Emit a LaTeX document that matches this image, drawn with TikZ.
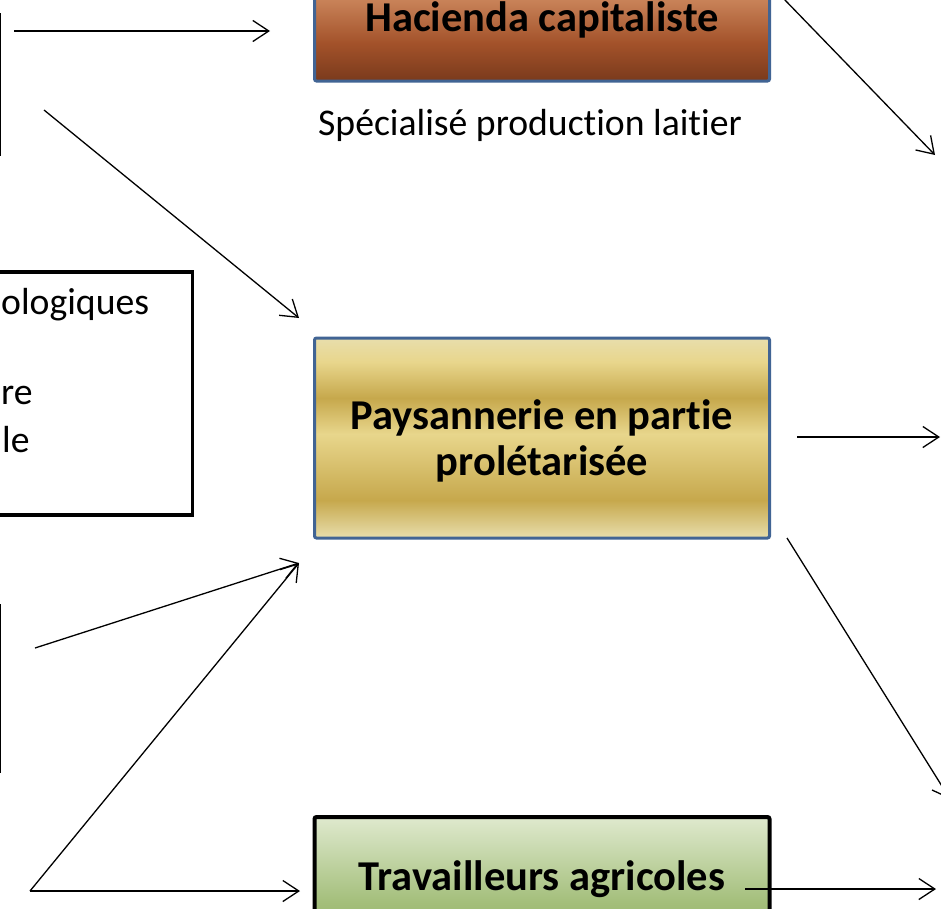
\documentclass[tikz,border=0pt]{standalone}
\usepackage{fontspec}
\setmainfont{Carlito}[Ligatures=NoCommon]
\usetikzlibrary{arrows.meta}
\definecolor{bordblue}{RGB}{65,100,148}
\definecolor{hacL}{RGB}{226,170,128}
\definecolor{hacA}{RGB}{200,130,88}
\definecolor{hacM}{RGB}{163,82,42}
\definecolor{hacD}{RGB}{122,58,28}
\definecolor{goldP}{RGB}{232,222,172}
\definecolor{goldL}{RGB}{232,214,140}
\definecolor{goldD}{RGB}{198,168,76}
\definecolor{grnL}{RGB}{223,233,206}
\definecolor{grnM}{RGB}{163,190,122}
\definecolor{grnD}{RGB}{147,180,104}
\pgfdeclareverticalshading{hacshade}{100bp}{color(0bp)=(hacD); color(25bp)=(hacD); color(40bp)=(hacM); color(57bp)=(hacA); color(75bp)=(hacL); color(100bp)=(hacL)}
\pgfdeclareverticalshading{goldshade}{100bp}{color(0bp)=(goldP); color(25bp)=(goldP); color(34.5bp)=(goldD); color(51bp)=(goldL); color(60bp)=(goldD); color(69bp)=(goldL); color(75bp)=(goldP); color(100bp)=(goldP)}
\pgfdeclareverticalshading{grnshade}{100bp}{color(0bp)=(grnD); color(25bp)=(grnD); color(40bp)=(grnM); color(75bp)=(grnL); color(100bp)=(grnL)}
\tikzset{
  lbl/.style={font=\fontsize{42.5}{46}\selectfont\bfseries, align=center, inner sep=0pt},
  plain/.style={font=\fontsize{37.7}{42}\selectfont, inner sep=0pt},
  conn/.style={line width=1.3pt, -{Straight Barb[length=16pt,width=21pt,line width=1.3pt]}},
  mainbox/.style={draw=bordblue, line width=3pt, rounded corners=2pt, minimum width=455pt, inner sep=0pt},
}
\begin{document}
\begin{tikzpicture}[x=1pt,y=-1pt]
\useasboundingbox (0,0) rectangle (941,908);
\clip (0,0) rectangle (941,908);
\fill[white] (0,0) rectangle (941,908);
% partial boxes at left
\node[draw, line width=2pt, minimum width=200pt, minimum height=141pt, anchor=east, inner sep=0pt] (boxA) at (1,84.5) {};
\node[draw, line width=3.5pt, minimum width=300pt, minimum height=243pt, anchor=east, inner sep=0pt] (boxB) at (194,393.5) {};
\node[draw, line width=2pt, minimum width=200pt, minimum height=167pt, anchor=east, inner sep=0pt] (boxC) at (1,688.5) {};
\node[plain, anchor=west] (tB1) at (1,305) {ologiques};
\node[plain, anchor=west] (tB2) at (1,395) {re};
\node[plain, anchor=west] (tB3) at (2,440) {le};
% main boxes
\node[mainbox, shading=hacshade, minimum height=126pt] (hac) at (542,18) {};
\node[lbl] (hact) at (542,20) {Hacienda capitaliste};
\node[plain] (spec) at (530,125) {Spécialisé production laitier};
\node[mainbox, shading=goldshade, minimum height=200pt] (pay) at (542,438) {};
\node[lbl] (payt) at (542,441) {Paysannerie en partie\\prolétarisée};
\node[mainbox, draw=black, line width=4pt, shading=grnshade, minimum height=123pt] (tra) at (542,878.5) {};
\node[lbl] (trat) at (542,879) {Travailleurs agricoles};
% connector end points
\coordinate (a1) at (14,31);   \coordinate (a1e) at (270,31);
\coordinate (a2) at (44,110);  \coordinate (a2e) at (299,318);
\coordinate (a3) at (783,-2);  \coordinate (a3e) at (935,155);
\coordinate (a4) at (797,437); \coordinate (a4e) at (940,437);
\coordinate (a5) at (787,538); \coordinate (a5e) at (950,799);
\coordinate (a6) at (35,648);  \coordinate (pin) at (299,563);
\coordinate (a7) at (30,891);  \coordinate (a8e) at (300,891);
\coordinate (a9) at (745,889); \coordinate (a9e) at (936,889);
\draw[conn] (a1) -- (a1e);
\draw[conn] (a2) -- (a2e);
\draw[conn] (a3) -- (a3e);
\draw[conn] (a4) -- (a4e);
\draw[conn] (a5) -- (a5e);
\draw[conn] (a6) -- (pin);
\draw[conn] (a7) -- (pin);
\draw[conn] (a7) -- (a8e);
\draw[conn] (a9) -- (a9e);
\end{tikzpicture}
\end{document}
